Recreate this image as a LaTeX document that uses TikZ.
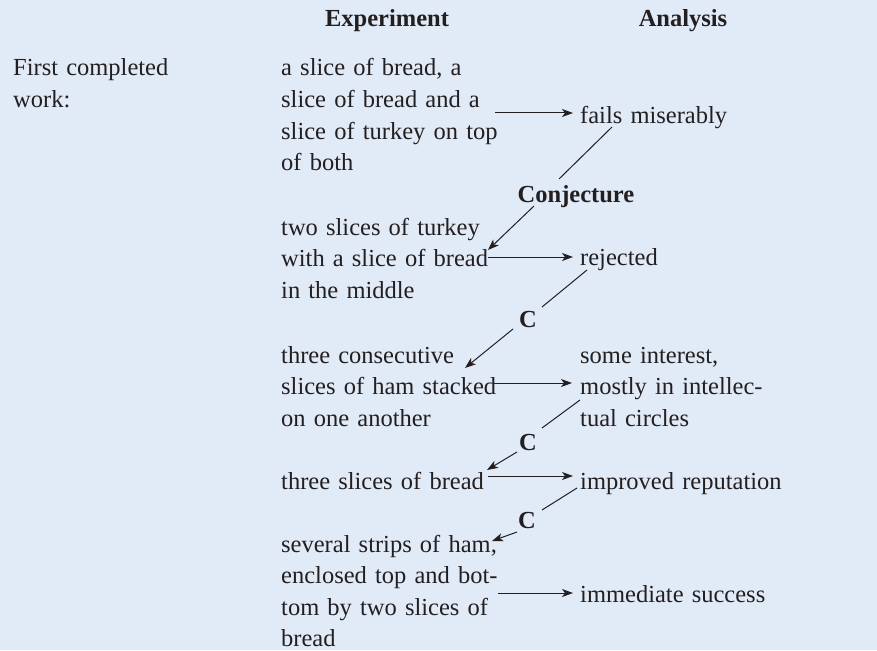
\documentclass[tikz,border=0pt]{standalone}
\usepackage{fontspec}
\setmainfont{Liberation Serif}
\usetikzlibrary{arrows.meta}
\definecolor{bg}{HTML}{E1EAF7}
\definecolor{ink}{HTML}{231F20}
\tikzset{
  txt/.style={anchor=base west, inner sep=0pt, text width=300pt, align=left, text=ink,
    font=\fontsize{24.5}{31.6}\selectfont},
  head/.style={anchor=base, inner sep=0pt, text=ink, font=\fontsize{24.5}{31.6}\selectfont\bfseries},
  lab/.style={anchor=base, inner sep=0pt, text=ink, font=\fontsize{24.5}{31.6}\selectfont\bfseries},
  conn/.style={draw=ink, line width=1pt},
  arr/.style={conn, -{Stealth[length=11pt,width=8pt,inset=3pt]}}
}
\begin{document}
\begin{tikzpicture}[x=1pt,y=-1pt]
\fill[bg] (0,0) rectangle (877,650);
\useasboundingbox (0,0) rectangle (877,650);
% headers
\node[head] (hexp) at (387,27) {Experiment};
\node[head] (hana) at (683,27) {Analysis};
\node[txt] (first) at (13,76) {First completed\\work:};
% experiments
\node[txt] (e1) at (281,76) {a slice of bread, a\\slice of bread and a\\slice of turkey on top\\of both};
\node[txt] (e2) at (281,235) {two slices of turkey\\with a slice of bread\\in the middle};
\node[txt] (e3) at (281,363) {three consecutive\\slices of ham stacked\\on one another};
\node[txt] (e4) at (281,489) {three slices of bread};
\node[txt] (e5) at (281,552) {several strips of ham,\\enclosed top and bot-\\tom by two slices of\\bread};
% analyses
\node[txt] (a1) at (580,123) {fails miserably};
\node[txt] (a2) at (580,265) {rejected};
\node[txt] (a3) at (580,363) {some interest,\\mostly in intellec-\\tual circles};
\node[txt] (a4) at (580,489) {improved reputation};
\node[txt] (a5) at (580,602) {immediate success};
% conjecture labels
\node[lab] (c1) at (576,202) {Conjecture};
\node[lab] (c2) at (528,327) {C};
\node[lab] (c3) at (528,450) {C};
\node[lab] (c4) at (527,528) {C};
% connector end points
\coordinate (e1r) at (495,113); \coordinate (a1l) at (573,113);
\coordinate (e2r) at (488,257); \coordinate (a2l) at (573,257);
\coordinate (e3r) at (493,383); \coordinate (a3l) at (572,383);
\coordinate (e4r) at (488,476); \coordinate (a4l) at (573,476);
\coordinate (e5r) at (498,593); \coordinate (a5l) at (573,593);
\coordinate (a1b) at (612,127); \coordinate (c1t) at (559,179);
\coordinate (c1b) at (534,206); \coordinate (e2t) at (488,250);
\coordinate (a2b) at (587,270); \coordinate (c2t) at (542,307);
\coordinate (c2b) at (513,329); \coordinate (e3t) at (465,368);
\coordinate (a3b) at (580,400); \coordinate (c3t) at (542,428);
\coordinate (c3b) at (517,452); \coordinate (e4t) at (487,470);
\coordinate (a4b) at (577,488); \coordinate (c4t) at (542,510);
\coordinate (c4b) at (517,532); \coordinate (e5t) at (492,541);
% horizontal arrows
\draw[arr] (e1r) -- (a1l);
\draw[arr] (e2r) -- (a2l);
\draw[arr] (e3r) -- (a3l);
\draw[arr] (e4r) -- (a4l);
\draw[arr] (e5r) -- (a5l);
% conjecture connectors
\draw[conn] (a1b) -- (c1t);
\draw[arr] (c1b) -- (e2t);
\draw[conn] (a2b) -- (c2t);
\draw[arr] (c2b) -- (e3t);
\draw[conn] (a3b) -- (c3t);
\draw[arr] (c3b) -- (e4t);
\draw[conn] (a4b) -- (c4t);
\draw[arr] (c4b) -- (e5t);
\end{tikzpicture}
\end{document}
